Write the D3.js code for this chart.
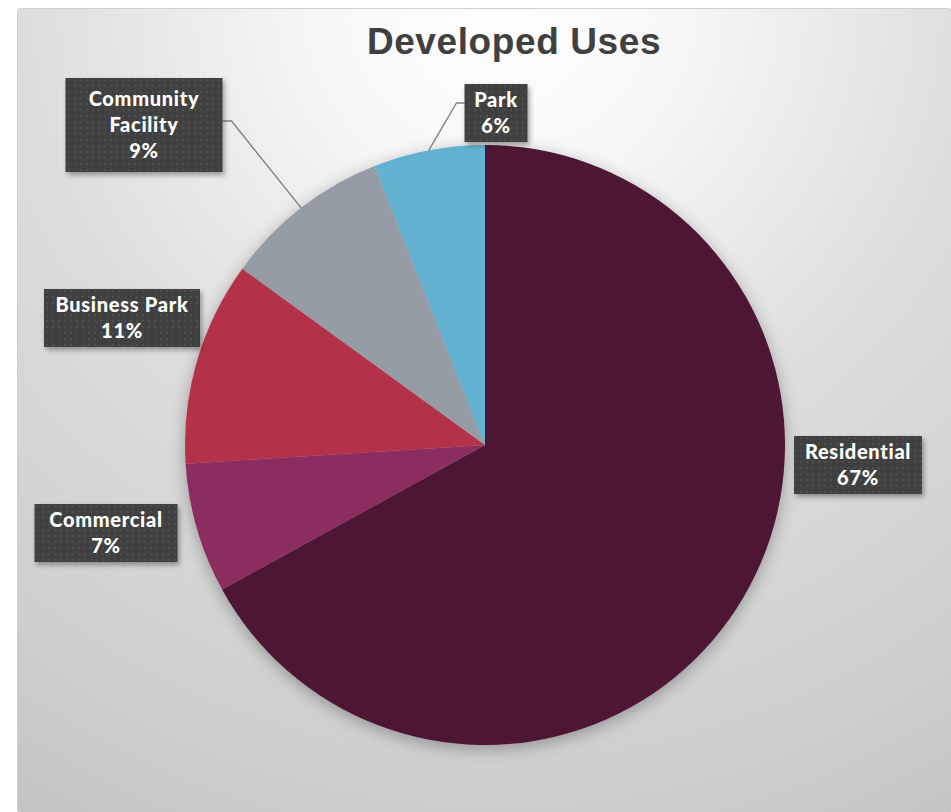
<!DOCTYPE html>
<html>
<head>
<meta charset="utf-8">
<script src="https://cdn.jsdelivr.net/npm/d3@7"></script>
<style>
  body { margin: 0; background: #fff; }
  svg { display: block; }
</style>
</head>
<body>
<div id="container"></div>
<script>
// chart data
const categories = ["Residential", "Commercial", "Business Park", "Community Facility", "Park"];
const shares = [67, 7, 11, 9, 6];
const colors = ["#4d1433", "#8b2d5e", "#b43248", "#959ca6", "#63b1d0"];
// how each data label wraps
const labelLines = [["Residential"], ["Commercial"], ["Business Park"], ["Community", "Facility"], ["Park"]];

let w = 951;
let h = 812;
let cx = 485, cy = 445, r = 300;

// label box layout: centres and sizes
const labelCenters = [[858, 465], [106, 533], [122, 318], [144, 125], [496, 113]];
const labelSizes = [[128, 58], [143, 58], [156, 58], [157, 94], [63, 58]];
const leaderFor = { "Community Facility": "right", "Park": "left" };

let svg = d3.select("#container")
  .append("svg")
    .attr("width", w)
    .attr("height", h);

let defs = svg.append("defs");

let bg = defs.append("radialGradient")
    .attr("id", "bgGrad")
    .attr("gradientUnits", "userSpaceOnUse")
    .attr("cx", 500).attr("cy", 0).attr("r", 950);
bg.append("stop").attr("offset", "0%").attr("stop-color", "#ffffff");
bg.append("stop").attr("offset", "20%").attr("stop-color", "#f6f6f6");
bg.append("stop").attr("offset", "50%").attr("stop-color", "#dddddd");
bg.append("stop").attr("offset", "85%").attr("stop-color", "#cdcdcd");
bg.append("stop").attr("offset", "100%").attr("stop-color", "#c3c3c3");

let shadow = defs.append("filter").attr("id", "pieShadow")
    .attr("x", "-20%").attr("y", "-20%").attr("width", "140%").attr("height", "140%");
shadow.append("feDropShadow").attr("dx", 0).attr("dy", 4).attr("stdDeviation", 8)
    .attr("flood-color", "#000").attr("flood-opacity", 0.3);

let boxShadow = defs.append("filter").attr("id", "boxShadow")
    .attr("x", "-20%").attr("y", "-20%").attr("width", "140%").attr("height", "150%");
boxShadow.append("feDropShadow").attr("dx", 2).attr("dy", 3).attr("stdDeviation", 2.5)
    .attr("flood-color", "#000").attr("flood-opacity", 0.35);

let dots = defs.append("pattern").attr("id", "dots")
    .attr("patternUnits", "userSpaceOnUse").attr("width", 6).attr("height", 6);
dots.append("rect").attr("width", 6).attr("height", 6).attr("fill", "#3f3f3f");
dots.append("rect").attr("x", 2).attr("y", 2).attr("width", 2).attr("height", 2).attr("fill", "#4e4e4e");

// chart area
svg.append("rect")
    .attr("x", 17.5).attr("y", 8.5)
    .attr("width", w - 17).attr("height", h - 8)
    .attr("rx", 3)
    .attr("fill", "url(#bgGrad)")
    .attr("stroke", "#d0d0d0");

svg.append("text")
    .attr("x", 514).attr("y", 54)
    .attr("text-anchor", "middle")
    .style("font-family", "'Liberation Sans', Arial, sans-serif")
    .style("font-weight", "bold")
    .style("font-size", "37px")
    .style("letter-spacing", "0.6px")
    .attr("fill", "#404040")
    .text("Developed Uses");

let data = categories.map((c, i) => ({ name: c, value: shares[i], color: colors[i], lines: labelLines[i], pos: labelCenters[i], size: labelSizes[i] }));

let pie = d3.pie().sort(null).value(d => d.value);
let arc = d3.arc().innerRadius(0).outerRadius(r);
let arcs = pie(data);

let g = svg.append("g").attr("transform", `translate(${cx},${cy})`);

g.append("g").attr("filter", "url(#pieShadow)")
  .selectAll("path")
  .data(arcs)
  .join("path")
    .attr("d", arc)
    .attr("fill", d => d.data.color);

// leader lines
let edge = d3.arc().innerRadius(r).outerRadius(r);
let lineH = 26;
let fontCss = "'Gill Sans', 'Gill Sans MT', Lato, sans-serif";

let labels = svg.append("g");

arcs.forEach(a => {
  let d = a.data;
  let lines = d.lines.concat([d.value + "%"]);
  let bw = d.size[0], bh = d.size[1];
  let lg = labels.append("g").attr("transform", `translate(${d.pos[0]},${d.pos[1]})`);
  lg.append("rect")
      .attr("x", -bw / 2).attr("y", -bh / 2)
      .attr("width", bw).attr("height", bh)
      .attr("fill", "url(#dots)")
      .attr("filter", "url(#boxShadow)");
  let txt = lg.append("text")
      .attr("text-anchor", "middle")
      .style("font-family", fontCss)
      .style("font-weight", "900")
      .style("font-size", "20px")
      .style("letter-spacing", "0.7px")
      .attr("fill", "#fff");
  let y0 = -(lines.length - 1) * lineH / 2 + 7;
  lines.forEach((t, i) => {
    txt.append("tspan").attr("x", 0).attr("y", y0 + i * lineH).text(t);
  });

  let side = leaderFor[d.name];
  if (side) {
    let p = edge.centroid(a);
    let sx = side == "right" ? d.pos[0] + bw / 2 : d.pos[0] - bw / 2;
    let kx = side == "right" ? sx + 9 : sx - 8;
    let sy = d.pos[1] - (side == "right" ? 4 : 10);
    labels.insert("path", ":first-child")
        .attr("d", `M${sx},${sy}H${kx}L${cx + p[0]},${cy + p[1]}`)
        .attr("fill", "none")
        .attr("stroke", "#7f7f7f")
        .attr("stroke-width", 1.3);
  }
});
</script>
</body>
</html>
